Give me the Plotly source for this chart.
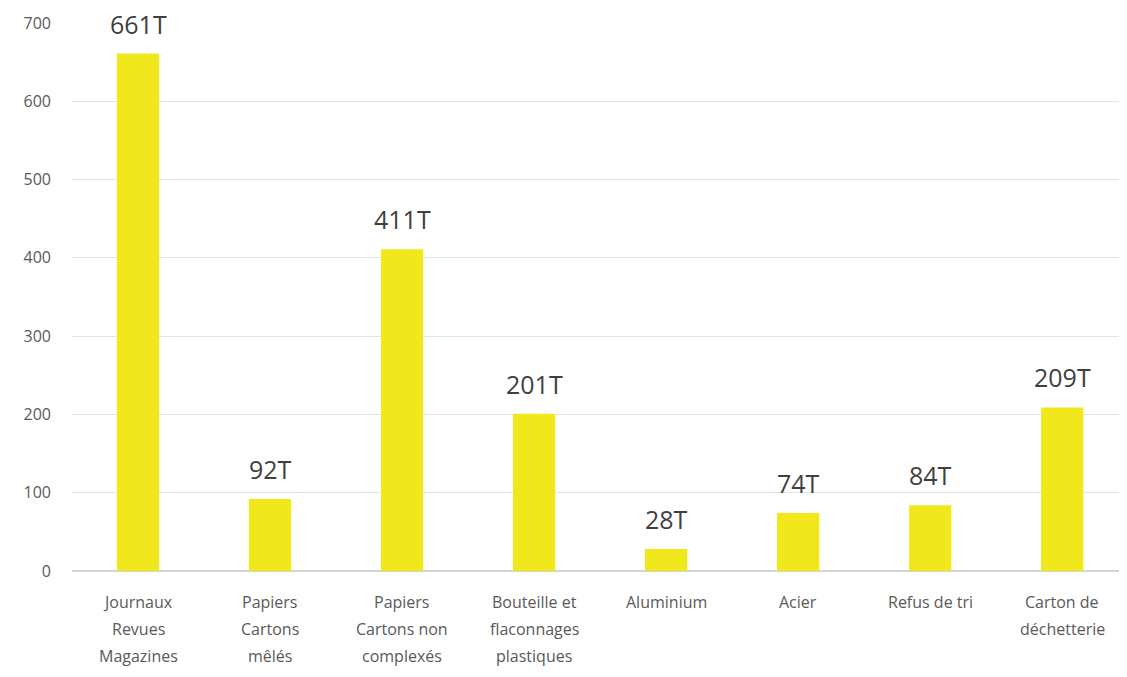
import plotly.graph_objects as go

categories = ["Journaux Revues Magazines", "Papiers Cartons mêlés",
              "Papiers Cartons non complexés", "Bouteille et flaconnages plastiques",
              "Aluminium", "Acier", "Refus de tri", "Carton de déchetterie"]
label_lines = [["Journaux", "Revues", "Magazines"],
               ["Papiers", "Cartons", "mêlés"],
               ["Papiers", "Cartons non", "complexés"],
               ["Bouteille et", "flaconnages", "plastiques"],
               ["Aluminium"],
               ["Acier"],
               ["Refus de tri"],
               ["Carton de", "déchetterie"]]
tonnes = [661, 92, 411, 201, 28, 74, 84, 209]
y_ticks = [0, 100, 200, 300, 400, 500, 600, 700]

fig = go.Figure()
fig.add_trace(go.Bar(x=categories, y=tonnes, marker_color="#F0E81A",
                     marker_line_width=0, showlegend=False, hoverinfo="x+y"))

# value labels above bars
for cat, val in zip(categories, tonnes):
    fig.add_annotation(x=cat, y=val, text=f"{val}T", showarrow=False,
                       yanchor="bottom", yshift=12, borderpad=0,
                       font=dict(family="Open Sans", size=25, color="#3F3F3F"))

# category labels, one annotation per line to get the wide line spacing
for cat, lines in zip(categories, label_lines):
    for i, line in enumerate(lines):
        fig.add_annotation(x=cat, y=0, text=line, showarrow=False,
                           yanchor="middle", yshift=-31 - 27 * i, borderpad=0,
                           font=dict(family="Open Sans", size=16, color="#595959"))

# page body has an 8px margin, so the figure is a bit smaller than the window
fig.update_layout(
    width=1111, height=661,
    margin=dict(l=64, r=0, t=15, b=98),
    plot_bgcolor="white", paper_bgcolor="white",
    bargap=0.68,
    xaxis=dict(showticklabels=False, showgrid=False, zeroline=False,
               showline=False, ticks="", range=[-0.5, 7.43]),
    yaxis=dict(range=[0, 700], tickvals=y_ticks, showgrid=True,
               gridcolor="#E3E3E3", gridwidth=1, zeroline=True,
               zerolinecolor="#D4D4D4", zerolinewidth=1.5, showline=False,
               ticks="", ticklabelstandoff=20,
               tickfont=dict(family="Open Sans", size=16, color="#595959")),
)

fig.write_html("out.html")
